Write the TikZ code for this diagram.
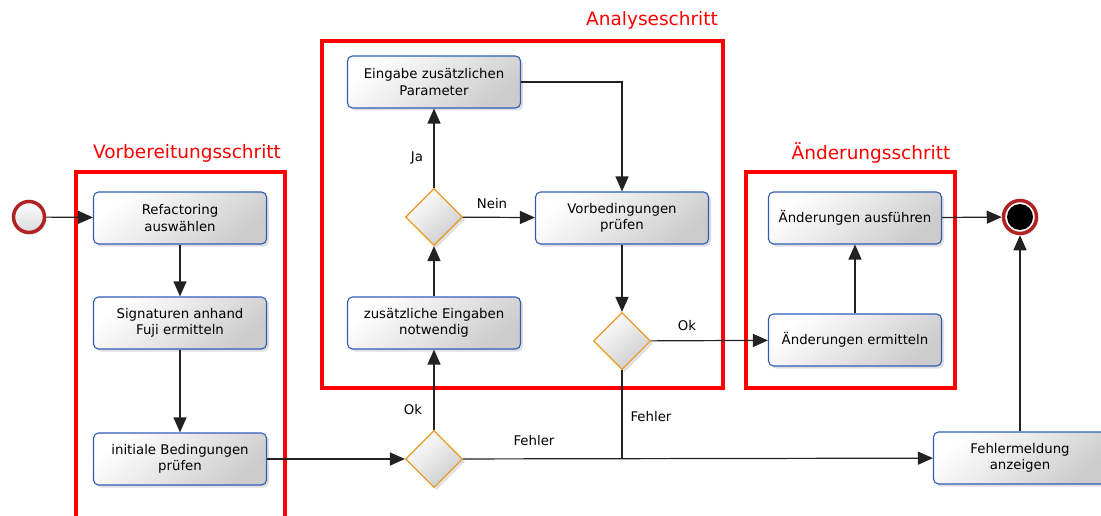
\documentclass[tikz,border=0pt]{standalone}
\usepackage{fontspec}
\setmainfont{DejaVu Sans}
\usetikzlibrary{shapes.geometric,shadows,arrows.meta}

\definecolor{boxblue}{HTML}{2F5DB5}
\definecolor{diaorange}{HTML}{E89A22}
\definecolor{ringred}{HTML}{B22222}
\definecolor{linegray}{HTML}{222222}

\tikzset{
  txt/.style={font=\fontsize{13.3}{16.5}\selectfont},
  activity/.style={txt, draw=boxblue, line width=1.1pt, rounded corners=5pt,
    minimum width=173pt, minimum height=52pt, align=center, inner sep=2pt,
    top color=white, bottom color=black!20, shading angle=40,
    drop shadow={opacity=0.25, shadow xshift=2.5pt, shadow yshift=-2.5pt}},
  decision/.style={diamond, aspect=1, draw=diaorange, line width=1.1pt,
    minimum width=57pt, minimum height=57pt, inner sep=0pt,
    top color=white, bottom color=black!20, shading angle=40,
    drop shadow={opacity=0.25, shadow xshift=2.5pt, shadow yshift=-2.5pt}},
  startev/.style={circle, draw=ringred, line width=3.5pt, minimum size=31pt, inner sep=0pt,
    top color=white, bottom color=black!15,
    drop shadow={opacity=0.25, shadow xshift=2pt, shadow yshift=-2pt}},
  endev/.style={circle, draw=ringred, line width=3.5pt, minimum size=33pt, inner sep=0pt,
    fill=white, drop shadow={opacity=0.25, shadow xshift=2pt, shadow yshift=-2pt}},
  frame/.style={draw=red, line width=4pt},
  framelabel/.style={text=red, font=\fontsize{18.5}{22}\selectfont},
  flow/.style={draw=linegray, line width=1.2pt, -{Triangle[length=15pt,width=13pt]}},
  plain/.style={draw=linegray, line width=1.2pt},
  lbl/.style={txt, inner sep=1pt}
}

\begin{document}
\begin{tikzpicture}[x=1pt, y=-1pt]
  \useasboundingbox (0,0) rectangle (1101,516);

  % phase frames
  \draw[frame] (76,172) rectangle (285,530);
  \draw[frame] (322,41) rectangle (723,388);
  \draw[frame] (746,172) rectangle (955,388);
  \node[framelabel] (lvor) at (187,153) {Vorbereitungsschritt};
  \node[framelabel] (lana) at (652,20) {Analyseschritt};
  \node[framelabel] (laen) at (871,153) {Änderungsschritt};

  % events
  \node[startev] (start) at (29,217) {};
  \node[endev] (stop) at (1020,217) {};
  \fill[black] (stop.center) circle (13pt);

  % activities
  \node[activity] (refac) at (180,218) {Refactoring\\auswählen};
  \node[activity] (sig)   at (180,323) {Signaturen anhand\\Fuji ermitteln};
  \node[activity] (init)  at (180,459) {initiale Bedingungen\\prüfen};
  \node[activity] (eing)  at (434,82)  {Eingabe zusätzlichen\\Parameter};
  \node[activity] (zus)   at (434,323) {zusätzliche Eingaben\\notwendig};
  \node[activity] (vorb)  at (622,218) {Vorbedingungen\\prüfen};
  \node[activity] (aaus)  at (855,218) {Änderungen ausführen};
  \node[activity] (aerm)  at (855,340) {Änderungen ermitteln};
  \node[activity] (fehl)  at (1020,458) {Fehlermeldung\\anzeigen};

  % decisions
  \node[decision] (dA) at (434,459) {};
  \node[decision] (dB) at (434,217) {};
  \node[decision] (dC) at (622,341) {};

  % flows
  \draw[flow] (start) -- (refac);
  \draw[flow] (refac) -- (sig);
  \draw[flow] (sig) -- (init);
  \draw[flow] (init) -- (dA);
  \draw[flow] (dA) -- (zus);
  \draw[flow] (dA) -- (fehl);
  \draw[flow] (zus) -- (dB);
  \draw[flow] (dB) -- (eing);
  \draw[flow] (dB) -- (vorb);
  \draw[flow] (eing.east) -| (vorb.north);
  \draw[flow] (vorb) -- (dC);
  \draw[flow] (dC) -- (aerm);
  \coordinate (join) at (dC.south |- dA.east);
  \draw[plain] (dC.south) -- (join);
  \draw[flow] (aerm) -- (aaus);
  \draw[flow] (aaus) -- (stop);
  \draw[flow] (fehl) -- (stop);

  % guard labels
  \node[lbl] (gja)   at (417,158) {Ja};
  \node[lbl] (gnein) at (492,204) {Nein};
  \node[lbl] (gok1)  at (687,326) {Ok};
  \node[lbl] (gf1)   at (651,417) {Fehler};
  \node[lbl] (gok2)  at (413,410) {Ok};
  \node[lbl] (gf2)   at (534,441) {Fehler};
\end{tikzpicture}
\end{document}
